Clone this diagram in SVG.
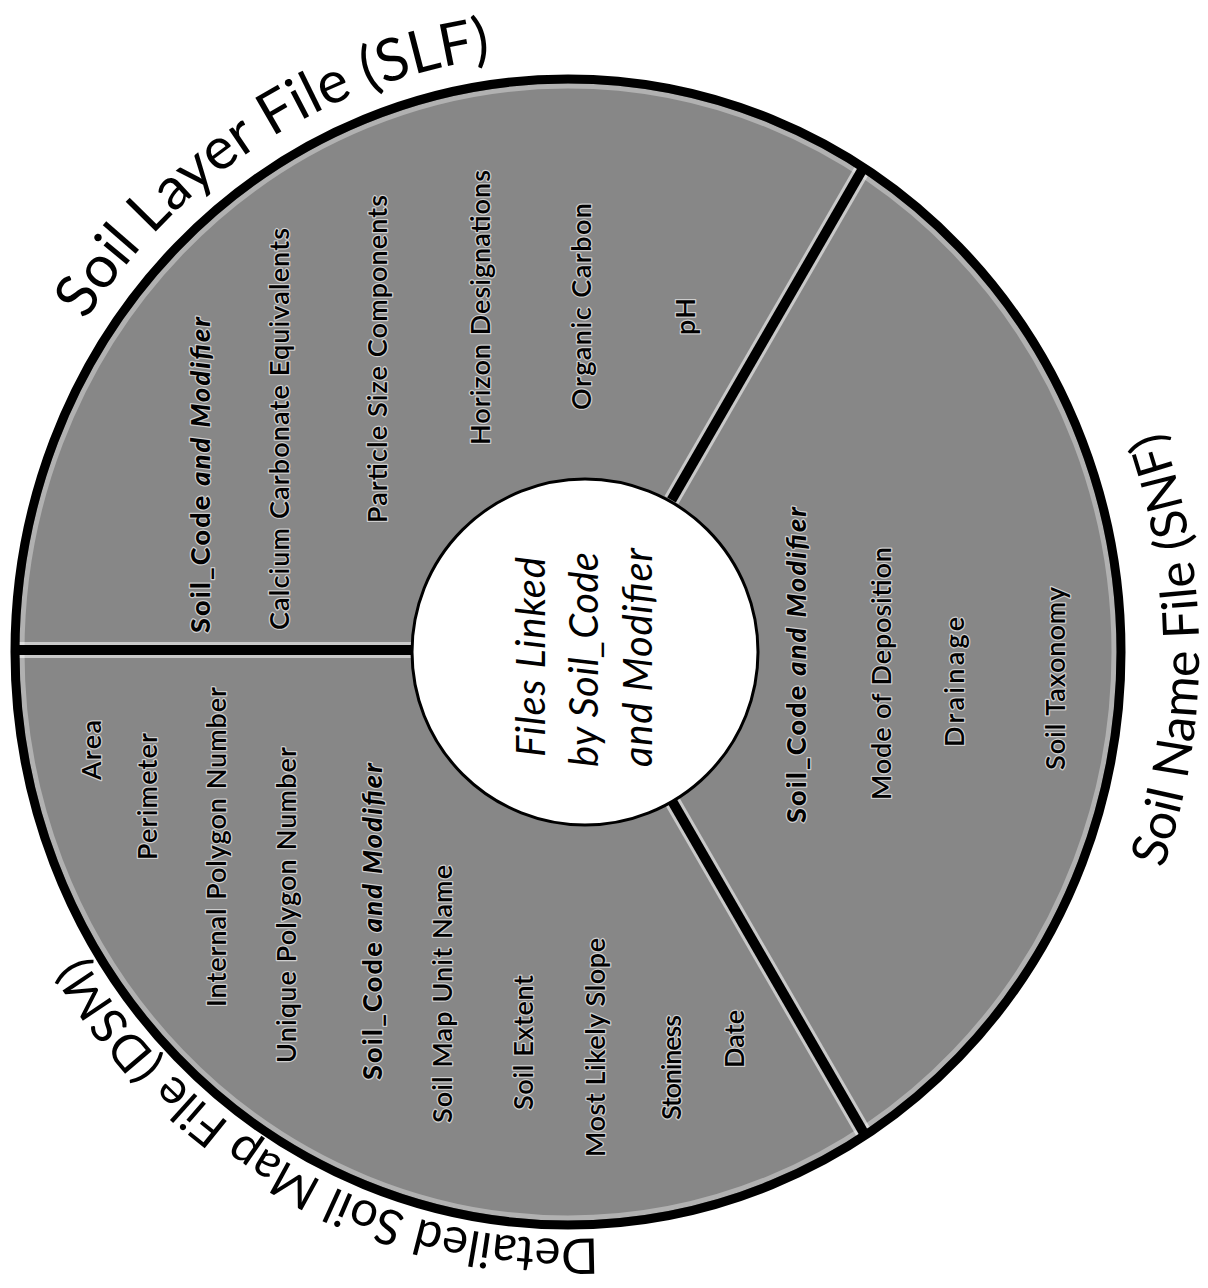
<svg xmlns="http://www.w3.org/2000/svg" width="1208" height="1288" viewBox="0 0 1208 1288">
<style>
.lbl{font-family:Lato,"Open Sans","Liberation Sans",sans-serif;font-size:27px;font-weight:600;fill:#000;stroke:#fff;stroke-width:2.5px;stroke-opacity:0.6;paint-order:stroke;stroke-linejoin:round}
.key{font-weight:900}
.it{font-style:italic}
.ctr{font-family:Lato,"Open Sans","Liberation Sans",sans-serif;font-size:40px;font-style:italic;fill:#000}
.ttl{font-family:Lato,"Open Sans","Liberation Sans",sans-serif;fill:#000}
.div{stroke:#000;stroke-width:10;stroke-linecap:butt;fill:none}
.halo{stroke:#fff;stroke-width:16;stroke-opacity:0.55;fill:none}
</style>
<defs>
<path id="arcSLF" d="M 23.9 447.1 A 579 599 0 0 1 618.5 55.3"/>
<path id="arcDSM" d="M 666.4 1230.1 A 567 587 0 0 1 54.1 900.1"/>
<path id="arcSNF" d="M 1139.9 927.1 A 631 651 0 0 0 1139.9 376.9"/>
</defs>
<rect width="1208" height="1288" fill="#fff"/>
<g id="disc">
<ellipse cx="568" cy="652" rx="553" ry="573" fill="#878787"/>
<ellipse cx="568" cy="652" rx="546" ry="566" fill="none" stroke="#fff" stroke-width="5" stroke-opacity="0.35"/>
</g>
<g id="connectors">
<line class="halo" x1="15" y1="650" x2="412" y2="650"/>
<line class="halo" x1="671.5" y1="500" x2="863.5" y2="167.6"/>
<line class="halo" x1="671.5" y1="800" x2="865" y2="1135"/>
<line class="div" x1="15" y1="650" x2="412" y2="650"/>
<line class="div" x1="671.5" y1="500" x2="863.5" y2="167.6"/>
<line class="div" x1="671.5" y1="800" x2="865" y2="1135"/>
<ellipse cx="568" cy="652" rx="553" ry="573" fill="none" stroke="#000" stroke-width="9"/>
</g>
<g id="hub">
<circle cx="585" cy="652" r="173" fill="#fff" stroke="#000" stroke-width="3"/>
<text class="ctr" x="545" y="757" transform="rotate(-90 545 757)" textLength="200">Files Linked</text>
<text class="ctr" x="598" y="767" transform="rotate(-90 598 767)" textLength="215">by Soil_Code</text>
<text class="ctr" x="652" y="767" transform="rotate(-90 652 767)" textLength="219">and Modifier</text>
</g>
<g id="slf">
<text class="ttl" font-size="59"><textPath href="#arcSLF" startOffset="390" text-anchor="middle">Soil Layer File (SLF)</textPath></text>
<text class="lbl" x="210" y="633" transform="rotate(-90 210 633)" textLength="316"><tspan class="key">Soil_Code</tspan><tspan class="key it"> and Modifier</tspan></text>
<text class="lbl" x="289" y="630" transform="rotate(-90 289 630)" textLength="402">Calcium Carbonate Equivalents</text>
<text class="lbl" x="387" y="523" transform="rotate(-90 387 523)" textLength="328">Particle Size Components</text>
<text class="lbl" x="490" y="445" transform="rotate(-90 490 445)" textLength="275">Horizon Designations</text>
<text class="lbl" x="591" y="410" transform="rotate(-90 591 410)" textLength="207">Organic Carbon</text>
<text class="lbl" x="695" y="335" transform="rotate(-90 695 335)" textLength="37">pH</text>
</g>
<g id="dsm">
<text class="ttl" font-size="49"><textPath href="#arcDSM" startOffset="378" text-anchor="middle">Detailed Soil Map File (DSM)</textPath></text>
<text class="lbl" x="101" y="780" transform="rotate(-90 101 780)" textLength="60">Area</text>
<text class="lbl" x="157" y="860" transform="rotate(-90 157 860)" textLength="127">Perimeter</text>
<text class="lbl" x="226" y="1007" transform="rotate(-90 226 1007)" textLength="320">Internal Polygon Number</text>
<text class="lbl" x="296" y="1063" transform="rotate(-90 296 1063)" textLength="316">Unique Polygon Number</text>
<text class="lbl" x="382" y="1080" transform="rotate(-90 382 1080)" textLength="317"><tspan class="key">Soil_Code</tspan><tspan class="key it"> and Modifier</tspan></text>
<text class="lbl" x="452" y="1123" transform="rotate(-90 452 1123)" textLength="258">Soil Map Unit Name</text>
<text class="lbl" x="533" y="1110" transform="rotate(-90 533 1110)" textLength="135">Soil Extent</text>
<text class="lbl" x="605" y="1157" transform="rotate(-90 605 1157)" textLength="219">Most Likely Slope</text>
<text class="lbl" x="681" y="1120" transform="rotate(-90 681 1120)" textLength="105">Stoniness</text>
<text class="lbl" x="744" y="1068" transform="rotate(-90 744 1068)" textLength="58">Date</text>
</g>
<g id="snf">
<text class="ttl" font-size="50"><textPath href="#arcSNF" startOffset="286" text-anchor="middle">Soil Name File (SNF)</textPath></text>
<text class="lbl" x="806" y="823" transform="rotate(-90 806 823)" textLength="316"><tspan class="key">Soil_Code</tspan><tspan class="key it"> and Modifier</tspan></text>
<text class="lbl" x="891" y="800" transform="rotate(-90 891 800)" textLength="253">Mode of Deposition</text>
<text class="lbl" x="964" y="747" transform="rotate(-90 964 747)" textLength="130">Drainage</text>
<text class="lbl" x="1065" y="770" transform="rotate(-90 1065 770)" textLength="183">Soil Taxonomy</text>
</g>
</svg>
